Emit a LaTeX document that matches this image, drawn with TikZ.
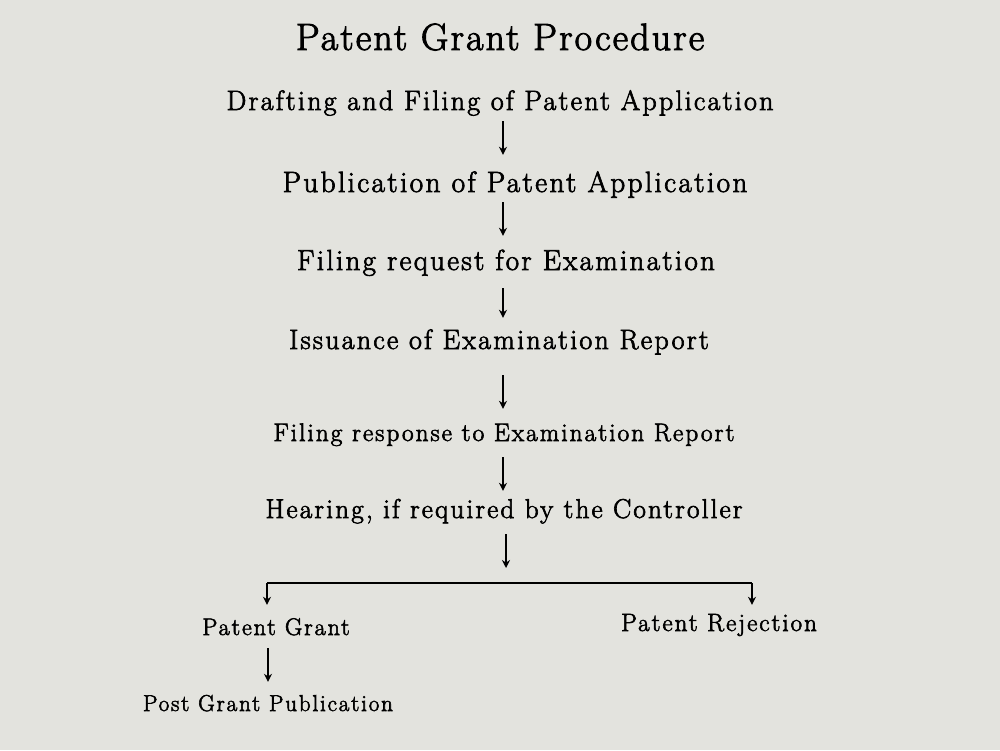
\documentclass[tikz,border=0pt]{standalone}
\usepackage{fontspec}
\setmainfont{Latin Modern Roman}[LetterSpace=8, FakeBold=2.4]
\usetikzlibrary{arrows.meta}
\definecolor{paper}{RGB}{227,227,222}

\tikzset{
  stepbox/.style={font=\fontsize{28}{32}\selectfont, inner sep=0pt,
    text height=19pt, text depth=5pt, anchor=base},
  smallstep/.style={stepbox, font=\fontsize{25.3}{30}\selectfont, text height=18pt},
  endbox/.style={stepbox, font=\fontsize{24}{28}\selectfont, text height=16pt},
  titlebox/.style={font=\fontsize{38}{42}\selectfont\addfontfeature{LetterSpace=5.5},
    inner sep=0pt, anchor=base},
  flow/.style={line width=1.5pt, -{Stealth[length=8pt,width=8pt]}},
  branch/.style={line width=1.5pt}
}

\begin{document}
\begin{tikzpicture}[x=1pt,y=-1pt]
\fill[paper] (0,0) rectangle (1000,750);

\node[titlebox] (title) at (500,50) {Patent Grant Procedure};

% main steps
\node[stepbox] (s1) at (500,110) {Drafting and Filing of Patent Application};
\node[stepbox, font=\fontsize{29.3}{33}\selectfont] (s2) at (515,192) {Publication of Patent Application};
\node[stepbox, font=\fontsize{29}{33}\selectfont] (s3) at (506,270) {Filing request for Examination};
\node[stepbox] (s4) at (499,349) {Issuance of Examination Report};
\node[smallstep] (s5) at (504,441) {Filing response to Examination Report};
\node[stepbox, font=\fontsize{27.2}{31}\selectfont] (s6) at (504,518) {Hearing, if required by the Controller};

% outcome
\node[endbox] (grant) at (276,635) {Patent Grant};
\node[endbox, font=\fontsize{23}{27}\selectfont] (post) at (268,711) {Post Grant Publication};
\node[endbox, font=\fontsize{25}{29}\selectfont] (reject) at (719,631) {Patent Rejection};

\coordinate (ax) at (503,0);
\coordinate (fork) at (506,583);
\coordinate (bl) at (267,583);
\coordinate (br) at (752,583);

\draw[flow, shorten <=6pt, shorten >=18pt] (s1.south -| ax) -- (s2.north -| ax);
\draw[flow, shorten <=5pt, shorten >=15pt] (s2.south -| ax) -- (s3.north -| ax);
\draw[flow, shorten <=13pt, shorten >=12pt] (s3.south -| ax) -- (s4.north -| ax);
\draw[flow, shorten <=21pt, shorten >=14pt] (s4.south -| ax) -- (s5.north -| ax);
\draw[flow, shorten <=11pt, shorten >=8pt] (s5.south -| ax) -- (s6.north -| ax);
\draw[flow, shorten <=11pt, shorten >=15pt] (s6.south -| fork) -- (fork);

\draw[branch] (bl) -- (br);
\draw[flow, shorten >=14pt] (bl) -- (bl |- grant.north);
\draw[flow, shorten >=10pt] (br) -- (br |- reject.north);
\draw[flow, shorten <=8pt, shorten >=13pt] (grant.south -| post) -- (post.north);
\end{tikzpicture}
\end{document}
